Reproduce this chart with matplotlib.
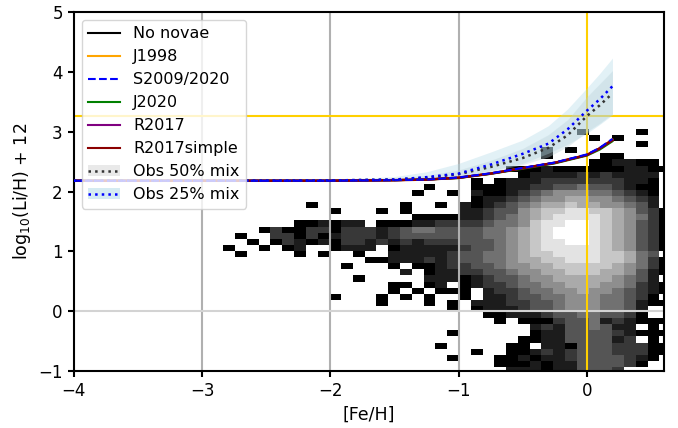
import numpy as np
import matplotlib
matplotlib.use("Agg")
import matplotlib.pyplot as plt
from matplotlib.lines import Line2D
from matplotlib.patches import Patch

# --- 2D histogram of observed stars (grey level 0 = black .. 9 = white, '.' = empty)
feh_start, feh_step = -2.835, 0.0919
li_start, li_step = -1.034, 0.102
n_feh_bins = 38

# rows from top (highest Li) to bottom; columns grouped in tens for readability
hist_rows = [
    ".......... .......... .......... 0....0..",   # 3.00
    ".......... .......... .......... .0.0....",
    ".......... .......... .......... .....0..",
    ".......... .......... .......0.0 ........",
    ".......... .......... .......0.. ..00....",
    ".......... .......... .......... .001100.",
    ".......... .......... ....000100 00001100",
    ".......... .......... .....01111 2121111.",
    ".......... .......... .0.0111222 2222110.",
    ".......... .......0.. .000112233 4332100.",   # 2.08
    ".......... ......0..0 .100123455 5443210.",
    ".......... .......... .011234556 6554321.",
    ".......0.. .....0..0. 1012345667 6655431.",
    ".........0 ...0.0.... 1123356778 87765320",
    ".......... ......0000 1123456788 88765420",
    "......0010 11.0001122 2234457889 98765320",
    "...0200220 2221234433 3344567899 98765320",
    ".0..220201 2221233333 3344567899 98765320",
    "..0.021010 2212121222 3334567889 98765320",
    "0..0.01..0 111.011111 2334567888 88765320",   # 1.06
    ".0....0.0. .0..111112 3344567788 8877643.",
    ".......... ..00111212 3344566778 88776420",
    ".......... 0...0.0012 2334556677 77765420",
    ".......... .....1.011 2233455667 77665310",
    ".......... .0.....111 0123345566 6665431.",
    ".......... ....00.01. 0122344556 66554210",
    ".......... ....0.0.00 0.12234455 65543210",
    ".........0 ...0.0.0.. 0.11233445 5544320.",
    ".......... ...0...0.0 .111223345 55443100",
    ".......... .........0 .011123345 554431..",   # 0.04
    ".......... .......... ..00111233 443320..",
    ".......... .......... ...0.00023 34121000",
    ".......... .......... ......1213 34311.0.",
    ".......... .........0 ......0113 33321000",
    ".......... .......... .....00113 33312.0.",
    ".......... ........0. ....00.110 33322200",
    ".......... .......... .0..001212 33322200",
    ".......... .........0 ...0010112 3333210.",
    ".......... .......... ...0001011 333320..",
    ".......... .......... ....111011 3332....",   # -0.98
]

# --- chemical evolution models
feh_model = [-4.0, -3.5, -3.0, -2.5, -2.0, -1.5, -1.25, -1.0, -0.75, -0.5, -0.25, 0.0, 0.1, 0.2]
li_no_novae = [2.18, 2.18, 2.18, 2.18, 2.18, 2.19, 2.20, 2.23, 2.30, 2.39, 2.48, 2.61, 2.72, 2.86]
li_j1998 = [2.18, 2.18, 2.18, 2.18, 2.18, 2.19, 2.20, 2.23, 2.30, 2.39, 2.48, 2.61, 2.72, 2.87]
li_s2009 = [2.18, 2.18, 2.18, 2.18, 2.18, 2.19, 2.20, 2.235, 2.305, 2.395, 2.485, 2.62, 2.73, 2.88]
li_j2020 = [2.18, 2.18, 2.18, 2.18, 2.18, 2.19, 2.20, 2.225, 2.295, 2.38, 2.47, 2.60, 2.70, 2.84]
li_r2017 = [2.18, 2.18, 2.18, 2.18, 2.18, 2.19, 2.20, 2.23, 2.30, 2.39, 2.48, 2.61, 2.72, 2.86]
li_r2017s = [2.18, 2.18, 2.18, 2.18, 2.18, 2.19, 2.20, 2.23, 2.30, 2.39, 2.48, 2.61, 2.72, 2.86]

# --- observationally calibrated nova mixing
feh_obs = [-4.0, -3.0, -2.0, -1.5, -1.25, -1.0, -0.75, -0.5, -0.3, -0.15, 0.0, 0.1, 0.2]
li_obs50 = [2.18, 2.18, 2.185, 2.20, 2.23, 2.29, 2.41, 2.56, 2.73, 2.94, 3.26, 3.44, 3.64]
li_obs50_lo = [2.18, 2.18, 2.18, 2.19, 2.21, 2.25, 2.33, 2.45, 2.58, 2.75, 3.00, 3.14, 3.30]
li_obs50_hi = [2.18, 2.18, 2.19, 2.22, 2.27, 2.36, 2.52, 2.72, 2.95, 3.20, 3.58, 3.80, 4.02]
li_obs25 = [2.18, 2.18, 2.185, 2.20, 2.24, 2.30, 2.45, 2.63, 2.80, 3.04, 3.35, 3.54, 3.76]
li_obs25_lo = [2.18, 2.18, 2.18, 2.19, 2.21, 2.25, 2.35, 2.47, 2.64, 2.79, 2.97, 3.12, 3.28]
li_obs25_hi = [2.18, 2.18, 2.20, 2.25, 2.33, 2.47, 2.66, 2.86, 3.10, 3.38, 3.73, 3.97, 4.23]

li_meteoritic = 3.26

plt.rcParams["font.size"] = 12
plt.rcParams["axes.linewidth"] = 1.5
plt.rcParams["xtick.major.width"] = 1.5
plt.rcParams["ytick.major.width"] = 1.5
plt.rcParams["xtick.major.size"] = 4.5
plt.rcParams["ytick.major.size"] = 4.5

fig = plt.figure(figsize=(6.78, 4.28), dpi=100)
ax = fig.add_axes([0.109, 0.133, 0.870, 0.839])

# histogram
grid = []
for row in hist_rows[::-1]:
    s = row.replace(" ", "").ljust(n_feh_bins, ".")[:n_feh_bins]
    grid.append([np.nan if c == "." else float(c) for c in s])
grid = np.ma.masked_invalid(np.array(grid))
nrows, ncols = grid.shape
xedges = feh_start + feh_step * np.arange(ncols + 1)
yedges = li_start + li_step * np.arange(nrows + 1)
ax.pcolormesh(xedges, yedges, grid, cmap="gray", vmin=0, vmax=9, zorder=1)

# reference lines
for xv in (-3, -2, -1):
    ax.axvline(xv, color="#b0b0b0", lw=1.5, zorder=2)
ax.axhline(0, color="#d3d3d3", lw=1.5, zorder=2)
ax.axvline(0, color="#ffd000", lw=1.5, zorder=2)
ax.axhline(li_meteoritic, color="#ffd000", lw=1.5, zorder=2)

# observational bands
ax.fill_between(feh_obs, li_obs25_lo, li_obs25_hi, color="#add8e6", alpha=0.35, lw=0, zorder=3)
ax.fill_between(feh_obs, li_obs50_lo, li_obs50_hi, color="#add8e6", alpha=0.25, lw=0, zorder=3)
ax.fill_between(feh_obs, li_obs50_lo, li_obs50_hi, color="#c8c8c8", alpha=0.15, lw=0, zorder=3)

ax.plot(feh_model, li_no_novae, color="black", lw=1.5, zorder=4)
ax.plot(feh_model, li_j1998, color="orange", lw=1.5, zorder=4)
ax.plot(feh_model, li_j2020, color="green", lw=1.5, zorder=4)
ax.plot(feh_model, li_r2017, color="purple", lw=1.5, zorder=4)
ax.plot(feh_model, li_r2017s, color="darkred", lw=1.8, zorder=4)
ax.plot(feh_model, li_s2009, color="blue", lw=1.5, ls="--", zorder=5)
ax.plot(feh_obs, li_obs50, color="#333333", lw=1.8, ls=":", zorder=5)
ax.plot(feh_obs, li_obs25, color="blue", lw=1.8, ls=":", zorder=5)

ax.set_xlim(-4, 0.6)
ax.set_ylim(-1, 5)
ax.set_xlabel("[Fe/H]", fontsize=12.5)
ax.set_ylabel(r"log$_{10}$(Li/H) + 12", fontsize=12.5)

handles = [
    Line2D([], [], color="black", lw=1.5),
    Line2D([], [], color="orange", lw=1.5),
    Line2D([], [], color="blue", lw=1.5, ls="--"),
    Line2D([], [], color="green", lw=1.5),
    Line2D([], [], color="purple", lw=1.5),
    Line2D([], [], color="darkred", lw=1.5),
    (Patch(color="#c8c8c8", alpha=0.4, lw=0), Line2D([], [], color="#333333", lw=1.8, ls=":")),
    (Patch(color="#add8e6", alpha=0.5, lw=0), Line2D([], [], color="blue", lw=1.8, ls=":")),
]
labels = ["No novae", "J1998", "S2009/2020", "J2020", "R2017", "R2017simple",
          "Obs 50% mix", "Obs 25% mix"]
ax.legend(handles, labels, loc="upper left", fontsize=11.5)

fig.savefig("out.png", dpi=100)
